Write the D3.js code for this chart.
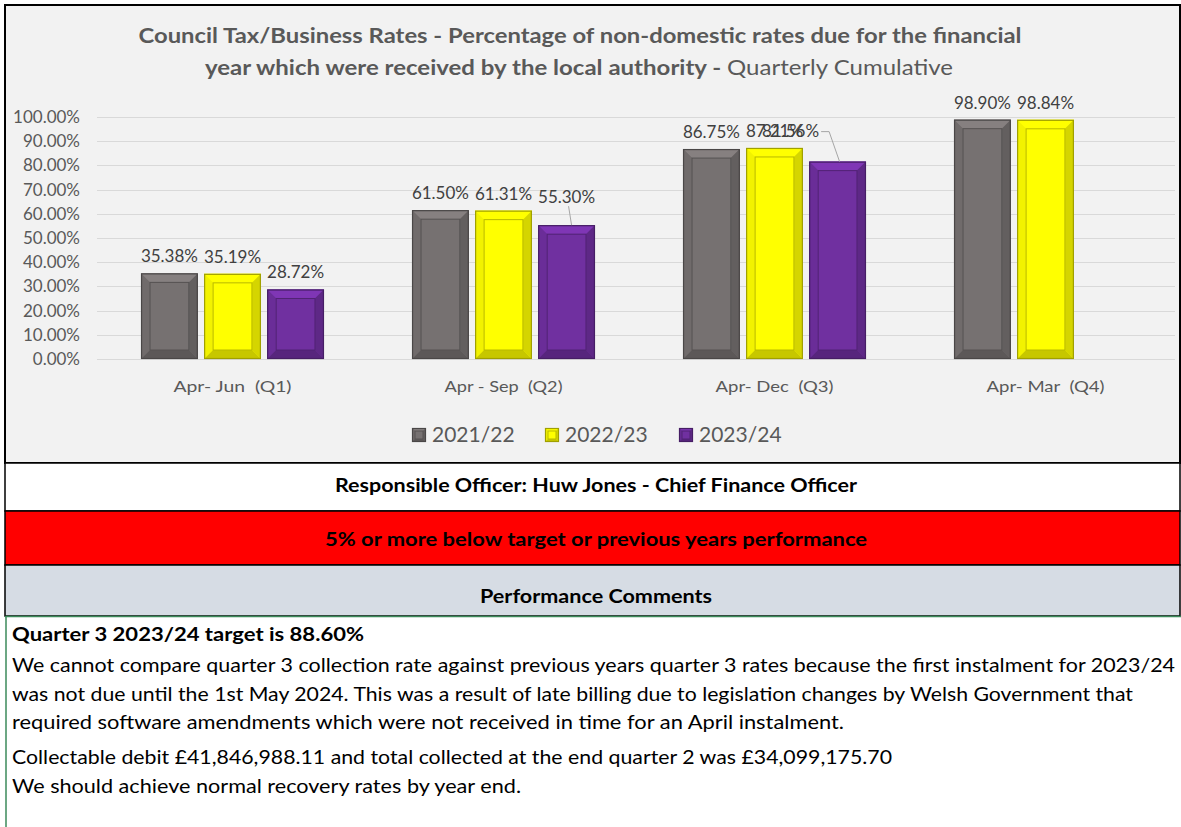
<!DOCTYPE html>
<html>
<head>
<meta charset="utf-8">
<script src="https://cdn.jsdelivr.net/npm/d3@7"></script>
<style>
  body { margin: 0; background: #fff; }
  svg text { font-family: Lato, 'Open Sans', sans-serif; }
</style>
</head>
<body>
<div id="chart"></div>
<script>
// data
var categories = ['Apr- Jun  (Q1)', 'Apr - Sep  (Q2)', 'Apr- Dec  (Q3)', 'Apr- Mar  (Q4)'];
var seriesNames = ['2021/22', '2022/23', '2023/24'];
var values2122 = [35.38, 61.50, 86.75, 98.90];
var values2223 = [35.19, 61.31, 87.21, 98.84];
var values2324 = [28.72, 55.30, 81.56, null];
var yTicks = [0, 10, 20, 30, 40, 50, 60, 70, 80, 90, 100];
var seriesColors = ['#767171', '#ffff00', '#7030a0'];

var commentLines = [
	'We cannot compare quarter 3 collection rate against previous years quarter 3 rates because the first instalment for 2023/24',
	'was not due until the 1st May 2024. This was a result of late billing due to legislation changes by Welsh Government that',
	'required software amendments which were not received in time for an April instalment.',
	'Collectable debit £41,846,988.11 and total collected at the end quarter 2 was £34,099,175.70',
	'We should achieve normal recovery rates by year end.'
];

var allValues = [values2122, values2223, values2324];

var width = 1181, height = 827;

var svg = d3.select('#chart').append('svg')
	.attr('width', width)
	.attr('height', height);

// squeeze text to the width it has in the picture
function fit(sel, w) {
	var n = sel.node();
	if (Math.abs(n.getComputedTextLength() - w) > 2) {
		sel.attr('textLength', w).attr('lengthAdjust', 'spacingAndGlyphs');
	}
	return sel;
}

// chart frame
svg.append('rect')
	.attr('x', 5).attr('y', 5)
	.attr('width', 1175).attr('height', 458)
	.attr('fill', '#f2f2f2');

// title
var t1 = svg.append('text')
	.attr('x', 580).attr('y', 43)
	.attr('text-anchor', 'middle')
	.attr('font-size', 21).attr('font-weight', 'bold')
	.attr('fill', '#595959')
	.text('Council Tax/Business Rates - Percentage of non-domestic rates due for the financial');
fit(t1, 883);
var t2 = svg.append('text')
	.attr('x', 579).attr('y', 75)
	.attr('text-anchor', 'middle')
	.attr('font-size', 21)
	.attr('fill', '#595959');
t2.append('tspan').attr('font-weight', 'bold').text('year which were received by the local authority - ');
t2.append('tspan').text('Quarterly Cumulative');
fit(t2, 748);

var x0 = d3.scaleBand()
	.domain(categories)
	.range([97, 1181])
	.paddingInner(0.325)
	.paddingOuter(0.1625);

var x1 = d3.scaleBand()
	.domain(d3.range(seriesNames.length))
	.range([0, x0.bandwidth()])
	.paddingInner(0.1);

var y = d3.scaleLinear()
	.domain([0, 100])
	.range([359, 117]);

// gridlines
svg.append('g').selectAll('line').data(yTicks)
	.enter().append('line')
	.attr('x1', 97).attr('x2', 1175)
	.attr('y1', function(d) { return Math.round(y(d)) + 0.5; })
	.attr('y2', function(d) { return Math.round(y(d)) + 0.5; })
	.attr('stroke', '#d9d9d9');

// y axis labels
var yAxis = d3.axisLeft(y)
	.tickValues(yTicks)
	.tickSize(0)
	.tickPadding(0)
	.tickFormat(function(d) { return d3.format('.2f')(d) + '%'; });
var yg = svg.append('g').attr('transform', 'translate(80,0)').call(yAxis);
yg.select('.domain').remove();
yg.selectAll('text')
	.attr('font-size', 17)
	.attr('fill', '#595959')
	.style('font-family', 'Lato, sans-serif');

// x category labels
svg.append('g').selectAll('text').data(categories)
	.enter().append('text')
	.attr('x', function(d) { return x0(d) + x0.bandwidth() / 2; })
	.attr('y', 392)
	.attr('text-anchor', 'middle')
	.attr('font-size', 16)
	.attr('fill', '#595959')
	.attr('xml:space', 'preserve')
	.style('white-space', 'pre')
	.text(function(d) { return d; })
	.each(function() { fit(d3.select(this), 118); });

// bevelled bars
function bevelBar(g, bx, by, bw, bh, color, b) {
	var c = d3.color(color);
	var dark = c.darker(1.3);
	g.append('rect').attr('x', bx).attr('y', by).attr('width', bw).attr('height', bh)
		.attr('fill', color);
	var x2 = bx + bw, y2 = by + bh;
	var pts = {
		top: [[bx, by], [x2, by], [x2 - b, by + b], [bx + b, by + b]],
		left: [[bx, by], [bx + b, by + b], [bx + b, y2 - b], [bx, y2]],
		right: [[x2, by], [x2, y2], [x2 - b, y2 - b], [x2 - b, by + b]],
		bottom: [[bx, y2], [bx + b, y2 - b], [x2 - b, y2 - b], [x2, y2]]
	};
	var fills = { top: c.brighter(0.35), left: c.darker(0.15), right: c.darker(0.5), bottom: c.darker(0.7) };
	Object.keys(pts).forEach(function(k) {
		g.append('polygon').attr('points', pts[k].map(function(p) { return p.join(','); }).join(' '))
			.attr('fill', fills[k]);
	});
	g.append('rect').attr('x', bx + b).attr('y', by + b)
		.attr('width', Math.max(0, bw - 2 * b)).attr('height', Math.max(0, bh - 2 * b))
		.attr('fill', color).attr('stroke', c.darker(0.9)).attr('stroke-width', 1);
	g.append('rect').attr('x', bx + 0.5).attr('y', by + 0.5).attr('width', bw - 1).attr('height', bh - 1)
		.attr('fill', 'none').attr('stroke', dark).attr('stroke-width', 1.2);
}

var bars = [];
allValues.forEach(function(vals, si) {
	vals.forEach(function(v, ci) {
		if (v === null) return;
		bars.push({ s: si, c: ci, v: v });
	});
});

var barG = svg.append('g');
bars.forEach(function(d) {
	var bx = x0(categories[d.c]) + x1(d.s);
	bevelBar(barG, bx, y(d.v), x1.bandwidth(), y(0) - y(d.v), seriesColors[d.s], 9);
});

// data labels (two were dragged in the original, with leader lines)
var labelNudge = { '2-1': { dx: 0, dy: -11 }, '2-2': { dx: -47, dy: -14 } };
bars.forEach(function(d) {
	var cx = x0(categories[d.c]) + x1(d.s) + x1.bandwidth() / 2;
	var ly = y(d.v) - 11;
	var n = labelNudge[d.s + '-' + d.c];
	var lx = cx;
	var lab = svg.append('text')
		.attr('x', lx).attr('y', ly)
		.attr('text-anchor', 'middle')
		.attr('font-size', 17)
		.attr('fill', '#404040')
		.text(d3.format('.2f')(d.v) + '%');
	if (n) {
		lx += n.dx; ly += n.dy;
		lab.attr('x', lx).attr('y', ly);
		var half = lab.node().getComputedTextLength() / 2;
		var pts;
		if (n.dx === 0) {
			pts = [[lx + 2, ly + 3], [lx + 5, y(d.v)]];
		} else {
			pts = [[lx + half + 2, ly - 5], [lx + half + 10, ly - 5], [cx + 2, y(d.v)]];
		}
		svg.append('polyline')
			.attr('points', pts.map(function(p) { return p.join(','); }).join(' '))
			.attr('fill', 'none').attr('stroke', '#a6a6a6');
	}
});

// legend
var legendX = [412, 545, 679];
var lg = svg.append('g');
seriesNames.forEach(function(name, i) {
	bevelBar(lg, legendX[i], 428, 14, 14, seriesColors[i], 3);
	lg.append('text')
		.attr('x', legendX[i] + 20).attr('y', 442)
		.attr('font-size', 21)
		.attr('fill', '#595959')
		.text(name);
});

// chart border
svg.append('rect')
	.attr('x', 5).attr('y', 5)
	.attr('width', 1175).attr('height', 458)
	.attr('fill', 'none').attr('stroke', '#000').attr('stroke-width', 2);

// rows below the chart
var rows = [
	{ y: 463, h: 48, fill: '#ffffff', text: 'Responsible Officer: Huw Jones - Chief Finance Officer', w: 522, ty: 492 },
	{ y: 511, h: 54, fill: '#ff0000', text: '5% or more below target or previous years performance', w: 542, ty: 546 },
	{ y: 565, h: 51, fill: '#d6dce4', text: 'Performance Comments', w: 232, ty: 603 }
];
rows.forEach(function(r) {
	svg.append('rect').attr('x', 5).attr('y', r.y).attr('width', 1175).attr('height', r.h)
		.attr('fill', r.fill).attr('stroke', '#000').attr('stroke-width', 1.5);
	var tx = svg.append('text')
		.attr('x', 596).attr('y', r.ty)
		.attr('text-anchor', 'middle')
		.attr('font-size', 18).attr('font-weight', 'bold')
		.attr('fill', '#000')
		.text(r.text);
	fit(tx, r.w);
});

// comments box
svg.append('line').attr('x1', 5).attr('x2', 1181).attr('y1', 616.5).attr('y2', 616.5)
	.attr('stroke', '#3b8a5a').attr('stroke-width', 1.5);
svg.append('line').attr('x1', 6).attr('x2', 6).attr('y1', 616).attr('y2', 827)
	.attr('stroke', '#3b8a5a').attr('stroke-width', 1.5);

var head = svg.append('text')
	.attr('x', 12).attr('y', 641)
	.attr('font-size', 18).attr('font-weight', 'bold')
	.attr('fill', '#000')
	.text('Quarter 3 2023/24 target is 88.60%');
fit(head, 352);

var lineY = [672, 701, 729, 764, 793];
var lineW = [1163, 1121, 832, 880, 509];
commentLines.forEach(function(s, i) {
	var tx = svg.append('text')
		.attr('x', 12).attr('y', lineY[i])
		.attr('font-size', 19)
		.attr('fill', '#000')
		.text(s);
	fit(tx, lineW[i]);
});
</script>
</body>
</html>
